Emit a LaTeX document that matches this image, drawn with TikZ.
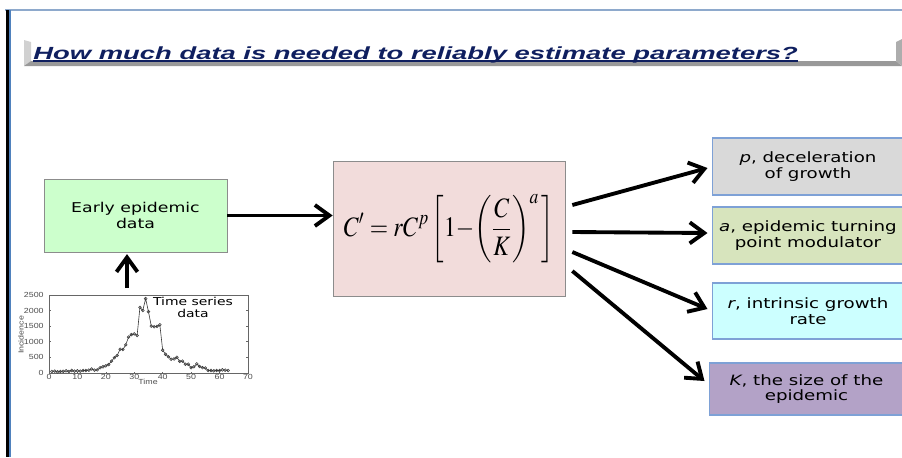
\documentclass[tikz,border=0pt]{standalone}
\usepackage{mathptmx}
\usepackage{graphicx}
\usepackage[no-math]{fontspec}
\setmainfont{DejaVu Sans}
\newfontfamily\slidefont[FakeStretch=1.28]{DejaVu Sans}
\newfontfamily\titlefont[FakeStretch=1.56]{Liberation Sans}
\newfontfamily\axisfont[FakeStretch=1.2]{Liberation Sans}
\usetikzlibrary{positioning,arrows.meta,plotmarks}
\definecolor{titleink}{HTML}{0F1F5F}
\definecolor{framesteel}{HTML}{8EA9CC}
\definecolor{frameblue}{HTML}{4F81BD}
\definecolor{boxedge}{HTML}{8C8C8C}
\definecolor{paredge}{HTML}{7EA1D6}
\definecolor{datagreen}{HTML}{CCFFCC}
\definecolor{modelpink}{HTML}{F2DCDB}
\definecolor{pgrey}{HTML}{D9D9D9}
\definecolor{aolive}{HTML}{D7E4BD}
\definecolor{rcyan}{HTML}{CCFFFF}
\definecolor{kviolet}{HTML}{B3A2C7}
\definecolor{plotink}{HTML}{3A3A3A}
\tikzset{
  bx/.style={align=center, inner sep=2pt, font=\slidefont\fontsize{8.1}{9}\selectfont},
  bx data/.style={bx, draw=boxedge, fill=datagreen, minimum width=3.66cm, minimum height=1.46cm,
                  font=\slidefont\fontsize{7.7}{9}\selectfont},
  bx model/.style={bx, draw=boxedge, fill=modelpink, minimum width=4.64cm, minimum height=2.7cm},
  bx par/.style={bx, draw=paredge, line width=0.6pt, minimum width=3.84cm, minimum height=1.14cm},
  fat arr/.style={-{Straight Barb[length=2.9mm, width=4.2mm]}, line width=2.2pt, black},
  tick lbl/.style={font=\axisfont\fontsize{4.2}{5}\selectfont, text=black!70, inner sep=0.6pt},
}

\begin{document}
\begin{tikzpicture}[x=0.02cm, y=-0.02cm]
  \useasboundingbox (0,0) rectangle (902,457);
  % slide frame and bevelled title bar
  \draw[framesteel, line width=0.8pt] (5,10) -- (902,10);
  \fill[black] (5.5,10) rectangle (9.3,457);
  \fill[frameblue] (9.3,10) rectangle (10.6,457);
  \fill[black!18] (24,40) -- (31,42) -- (31,61) -- (24,66) -- cycle;
  \fill[black!40] (24,66) -- (31,61) -- (896,61) -- (902,66) -- cycle;
  \fill[black!32] (896,42) -- (902,39) -- (902,66) -- (896,61) -- cycle;
  \node[anchor=base west, inner sep=0, text=titleink,
        font=\titlefont\bfseries\itshape\fontsize{10}{12}\selectfont] (title) at (33,59)
        {How much data is needed to reliably estimate parameters?};
  \draw[titleink, line width=0.9pt] ([yshift=-1.3pt]title.base west) -- ([yshift=-1.3pt]title.base east);
  % data, model and the four parameters
  \node[bx data] (early) at (135.5,215.5) {Early epidemic\\data};
  \node[bx model] (model) at (449,229)
        {\fontsize{16}{19}\selectfont\thickmuskip=4mu\medmuskip=0mu
         \scalebox{0.84}[1]{$\displaystyle C'=rC^{p}\left[1-\left(\frac{C}{K}\right)^{a}\,\right]$}};
  \node[bx par, fill=pgrey] (pdec) at (808,166.5) {\textit{p}, deceleration\\of growth};
  \node[bx par, fill=aolive] (aturn) at (808,235.5) {\textit{a}, epidemic turning\\point modulator};
  \node[bx par, fill=rcyan, minimum height=1.12cm] (rgrow) at (808,311) {\textit{r}, intrinsic growth\\rate};
  \node[bx par, fill=kviolet, minimum width=3.9cm, minimum height=1.04cm] (ksize) at (806.5,389) {\textit{K}, the size of the\\epidemic};
  \draw[fat arr] (early) -- (early -| model.west);
  \draw[fat arr] ([shift={(7,-24)}]model.east) -- ([shift={(-4,1.5)}]pdec.west);
  \draw[fat arr] ([shift={(7,3)}]model.east) -- ([shift={(-4,-2.5)}]aturn.west);
  \draw[fat arr] ([shift={(7,23)}]model.east) -- ([shift={(-4,-2)}]rgrow.west);
  \draw[fat arr] ([shift={(7,42)}]model.east) -- ([shift={(-4,-8)}]ksize.west);
  % time series inset
  \begin{scope}[shift={(49,373)}, x=0.05686cm, y=0.000624cm]
    \draw[black!60, line width=0.3pt] (0,0) rectangle (70,2500);
    \foreach \tv in {0,10,...,70} {
      \draw[black!60, line width=0.3pt] (\tv,0) -- (\tv,45) (\tv,2500) -- (\tv,2455);
      \node[tick lbl, anchor=north] (xt\tv) at (\tv,0) {\tv};
    }
    \foreach \iv in {0,500,...,2500} {
      \draw[black!60, line width=0.3pt] (0,\iv) -- (0.7,\iv) (70,\iv) -- (69.3,\iv);
      \node[tick lbl, anchor=east] (yt\iv) at (-1.4,\iv) {\iv};
    }
    \draw[plotink, line width=0.35pt, mark=o, mark size=0.8pt, mark options={line width=0.3pt}] plot coordinates {
      (1,50) (2,60) (3,40) (4,50) (5,55) (6,70) (7,50) (8,80) (9,60) (10,70) (11,60) (12,80) (13,80) (14,90)
      (15,130) (16,90) (17,100) (18,170) (19,200) (20,230) (21,270) (22,380) (23,490) (24,560) (25,760)
      (26,750) (27,900) (28,1150) (29,1230) (30,1250) (31,1200) (32,2100) (33,2000) (34,2380) (35,1960)
      (36,1500) (37,1480) (38,1490) (39,1540) (40,730) (41,600) (42,520) (43,440) (44,450) (45,500)
      (46,370) (47,380) (48,280) (49,280) (50,170) (51,200) (52,290) (53,210) (54,170) (55,160)
      (56,80) (57,80) (58,70) (59,80) (60,80) (61,100) (62,90) (63,80)};
  \end{scope}
  \node[tick lbl, rotate=90] (ylab) at (21,335) {Incidence};
  \node[tick lbl] (xlab) at (148,382) {Time};
  \node[align=center, font=\slidefont\fontsize{6.2}{6.8}\selectfont] (tslabel) at (193,307) {Time series\\data};
  \coordinate (tsplot) at (127,288);
  \draw[fat arr] (tsplot) -- ([yshift=-1]tsplot |- early.south);
\end{tikzpicture}
\end{document}
